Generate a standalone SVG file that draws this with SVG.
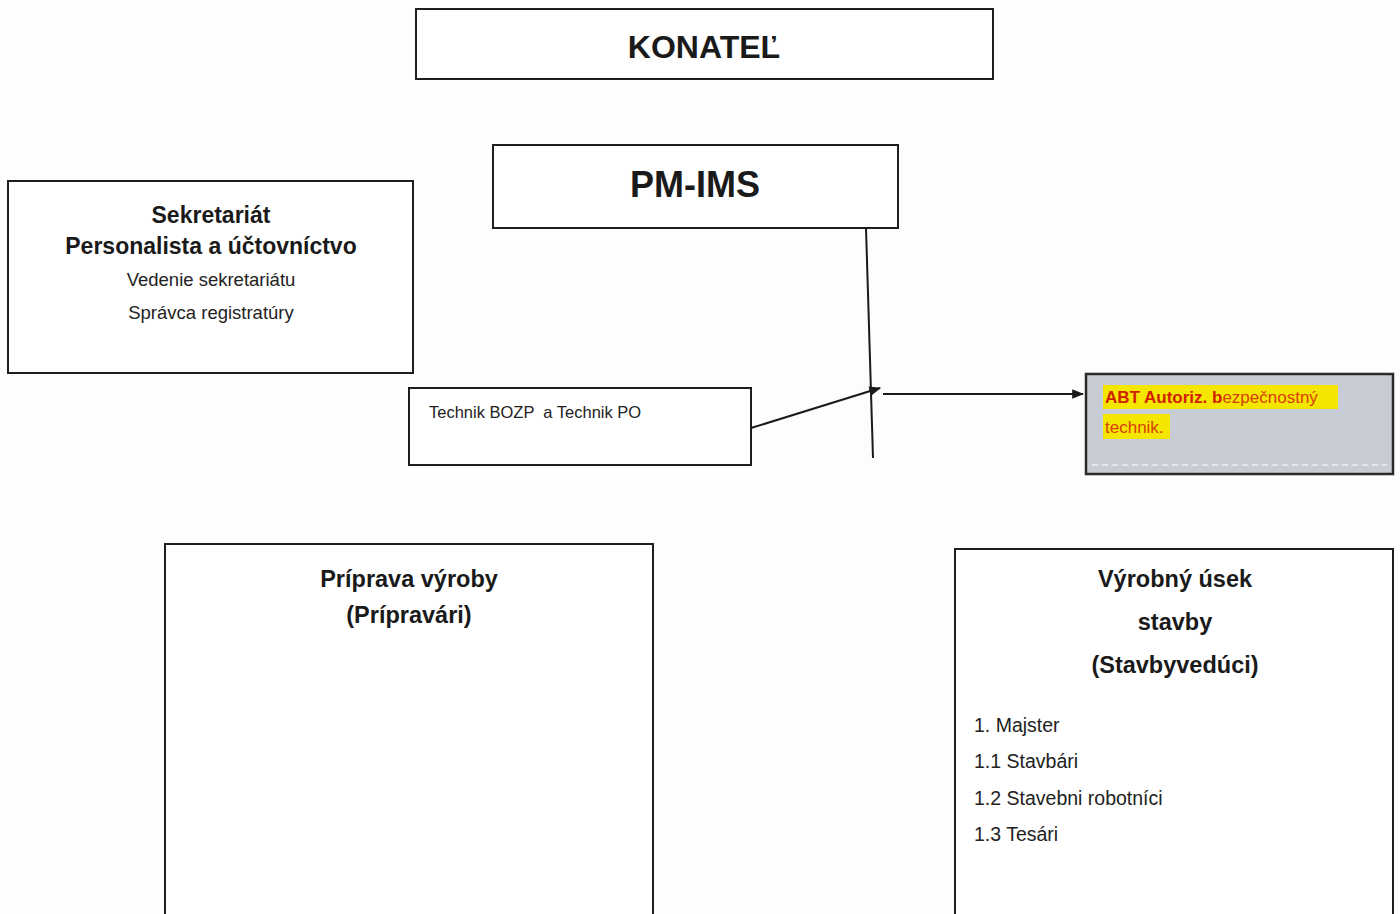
<svg xmlns="http://www.w3.org/2000/svg" width="1400" height="914" viewBox="0 0 1400 914">
<defs>
<style>
.box{fill:#ffffff;stroke:#1e1e1e;stroke-width:2}
.b{font-family:"Liberation Sans",Arial,sans-serif;font-weight:bold;fill:#1a1a1a}
.r{font-family:"Liberation Sans",Arial,sans-serif;fill:#222222}
.c{text-anchor:middle}
.ln{stroke:#1a1a1a;stroke-width:2;fill:none}
</style>
<marker id="ah2" viewBox="0 0 10 10" refX="9" refY="5" markerWidth="12" markerHeight="12" orient="auto" markerUnits="userSpaceOnUse">
<path d="M0,1 L10,5 L0,9 z" fill="#1a1a1a"/>
</marker>
</defs>
<rect width="1400" height="914" fill="#fdfdfd"/>

<g id="konatel">
<rect class="box" x="416" y="9" width="577" height="70"/>
<text class="b c" x="704" y="58" font-size="32">KONATEĽ</text>
</g>

<g id="pm-ims">
<rect class="box" x="493" y="145" width="405" height="83"/>
<text class="b c" x="695" y="197" font-size="36">PM-IMS</text>
</g>

<g id="sekretariat">
<rect class="box" x="8" y="181" width="405" height="192"/>
<text class="b c" x="211" y="223" font-size="23">Sekretariát</text>
<text class="b c" x="211" y="254" font-size="23">Personalista a účtovníctvo</text>
<text class="r c" x="211" y="286" font-size="18.5">Vedenie sekretariátu</text>
<text class="r c" x="211" y="319" font-size="18.5">Správca registratúry</text>
</g>

<g id="technik">
<rect class="box" x="409" y="388" width="342" height="77"/>
<text class="r" x="429" y="418" font-size="16.5" xml:space="preserve">Technik BOZP  a Technik PO</text>
</g>

<g id="abt">
<rect x="1086" y="374" width="307" height="100" fill="#c8ccd4" stroke="#2a2a2a" stroke-width="2.5"/>
<line x1="1092" y1="465" x2="1387" y2="465" stroke="#ffffff" stroke-width="1" stroke-dasharray="6,4"/>
<rect x="1103" y="385" width="235" height="24" fill="#f5e600"/>
<rect x="1103" y="414" width="67" height="25" fill="#f5e600"/>
<text x="1105" y="403" font-size="17" font-family="Liberation Sans, Arial, sans-serif" fill="#d02000"><tspan font-weight="bold">ABT Autoriz. b</tspan><tspan fill="#d8400a">ezpečnostný</tspan></text>
<text x="1105" y="433" font-size="17" font-family="Liberation Sans, Arial, sans-serif" fill="#d8400a">technik.</text>
</g>

<g id="priprava">
<rect class="box" x="165" y="544" width="488" height="380"/>
<text class="b c" x="409" y="587" font-size="23.5">Príprava výroby</text>
<text class="b c" x="409" y="623" font-size="23.5">(Prípravári)</text>
</g>

<g id="vyrobny">
<rect class="box" x="955" y="549" width="438" height="375"/>
<text class="b c" x="1175" y="587" font-size="23.5">Výrobný úsek</text>
<text class="b c" x="1175" y="630" font-size="23.5">stavby</text>
<text class="b c" x="1175" y="673" font-size="23.5">(Stavbyvedúci)</text>
<text class="r" x="974" y="732" font-size="19.5">1. Majster</text>
<text class="r" x="974" y="768" font-size="19.5">1.1 Stavbári</text>
<text class="r" x="974" y="805" font-size="19.5">1.2 Stavebni robotníci</text>
<text class="r" x="974" y="841" font-size="19.5">1.3 Tesári</text>
</g>

<g id="connectors">
<line class="ln" x1="866" y1="228" x2="873" y2="458"/>
<line class="ln" x1="751" y1="428" x2="880" y2="388" marker-end="url(#ah2)"/>
<line class="ln" x1="883" y1="394" x2="1083" y2="394" marker-end="url(#ah2)"/>
</g>
</svg>
